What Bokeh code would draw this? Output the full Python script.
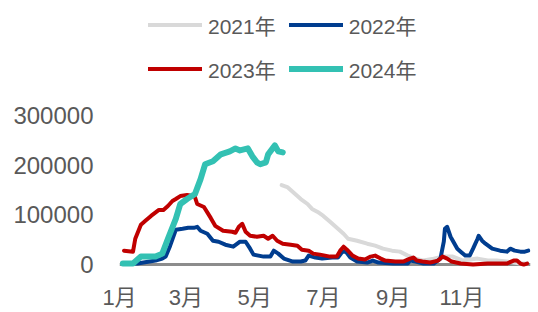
from bokeh.plotting import figure
from bokeh.models import Range1d, FixedTicker, Span, Legend, LegendItem, BasicTickFormatter
from bokeh.embed import file_html
from bokeh.resources import INLINE

FONT = "'Liberation Sans', 'Noto Sans CJK SC', sans-serif"

# x axis: day of year; month ticks
month_ticks = [1, 60, 121, 182, 244, 305]
month_labels = ["1月", "3月", "5月", "7月", "9月", "11月"]
y_ticks = [0, 100000, 200000, 300000]

series_names = ["2021年", "2022年", "2023年", "2024年"]

days_2021 = [145, 150, 155, 162, 168, 172, 177, 182, 188, 194, 200, 204, 212, 221, 228, 235,
             243, 250, 257, 264, 271, 280, 288, 297, 306, 319, 328, 336, 345, 357, 363]
vals_2021 = [160000, 156000, 146000, 132000, 122000, 112000, 106000, 98000, 86000, 74000,
             62000, 52000, 48000, 42000, 38000, 32000, 28000, 26000, 18000, 12000, 8000,
             12000, 16000, 16000, 8000, 12000, 8000, 8000, 6000, 2000, 2000]

days_2022 = [4, 17, 33, 39, 42, 46, 51, 57, 62, 67, 70, 73, 79, 84, 89, 95, 102, 108, 113,
             117, 120, 129, 135, 138, 142, 147, 155, 162, 166, 169, 175, 181, 190, 195, 199,
             202, 206, 212, 221, 226, 231, 244, 257, 259, 264, 271, 280, 286, 289, 290, 292,
             295, 297, 301, 304, 308, 312, 315, 319, 320, 323, 326, 332, 339, 345, 348, 352,
             357, 361, 364]
vals_2022 = [2000, 2000, 8000, 12000, 16000, 38000, 70000, 72000, 74000, 74000, 76000, 68000,
             62000, 48000, 46000, 40000, 36000, 46000, 46000, 32000, 20000, 16000, 16000,
             28000, 22000, 12000, 6000, 6000, 8000, 18000, 14000, 12000, 14000, 14000, 26000,
             26000, 14000, 6000, 4000, 8000, 4000, 2000, 2000, 8000, 6000, 2000, 2000, 12000,
             46000, 72000, 76000, 56000, 48000, 32000, 26000, 18000, 18000, 32000, 52000,
             58000, 48000, 42000, 32000, 28000, 26000, 32000, 28000, 26000, 26000, 28000]

days_2023 = [5, 13, 15, 20, 24, 29, 36, 40, 44, 48, 51, 55, 61, 66, 68, 70, 76, 82, 86, 93,
             101, 104, 107, 110, 113, 117, 123, 129, 133, 137, 141, 146, 153, 159, 163, 169,
             173, 179, 188, 194, 197, 200, 203, 208, 213, 219, 224, 228, 233, 237, 246, 253,
             259, 262, 265, 270, 277, 284, 288, 292, 296, 304, 315, 328, 336, 345, 351, 354,
             357, 360, 363]
vals_2023 = [28000, 26000, 52000, 80000, 88000, 98000, 110000, 110000, 118000, 128000,
             132000, 138000, 140000, 138000, 136000, 122000, 116000, 94000, 78000, 68000,
             66000, 64000, 76000, 82000, 66000, 58000, 56000, 58000, 52000, 58000, 48000,
             42000, 40000, 38000, 30000, 28000, 22000, 20000, 16000, 16000, 28000, 36000,
             30000, 18000, 12000, 10000, 16000, 18000, 12000, 8000, 6000, 6000, 12000, 14000,
             8000, 6000, 4000, 8000, 16000, 12000, 6000, 2000, 0, 2000, 2000, 2000, 8000,
             8000, 2000, 0, 2000]

days_2024 = [4, 13, 20, 33, 39, 44, 51, 55, 61, 68, 73, 77, 84, 91, 99, 104, 108, 115, 119,
             123, 126, 131, 133, 139, 142, 146]
vals_2024 = [2000, 2000, 16000, 16000, 22000, 52000, 92000, 122000, 132000, 142000, 172000,
             202000, 208000, 222000, 228000, 234000, 230000, 234000, 218000, 206000, 202000,
             206000, 222000, 240000, 228000, 226000]

colors = ["#D9D9D9", "#003D8F", "#C00000", "#33C1B3"]
widths = [4, 4, 4, 6]

p = figure(width=538, height=312, output_backend="svg", toolbar_location=None,
           x_range=Range1d(1, 366), y_range=Range1d(-12000, 532000),
           min_border_left=119, min_border_right=8, min_border_top=0, min_border_bottom=40)
p.outline_line_color = None
p.xgrid.visible = False
p.ygrid.visible = False
p.background_fill_color = "white"
p.border_fill_color = "white"

base = Span(location=0, dimension="width", line_color="#8C8C8C", line_width=3, level="underlay")
p.add_layout(base)

data = [(days_2021, vals_2021), (days_2022, vals_2022), (days_2023, vals_2023), (days_2024, vals_2024)]
renderers = []
for (d, v), c, w in zip(data, colors, widths):
    r = p.line(d, v, line_color=c, line_width=w, line_join="round", line_cap="round")
    renderers.append(r)

# axes
for ax in (p.xaxis, p.yaxis):
    ax.axis_line_color = None
    ax.major_tick_line_color = None
    ax.minor_tick_line_color = None
    ax.major_tick_out = 0
    ax.major_tick_in = 0
    ax.minor_tick_out = 0
    ax.minor_tick_in = 0
    ax.major_label_text_font = FONT
    ax.major_label_text_color = "#595959"

p.xaxis.ticker = FixedTicker(ticks=month_ticks)
p.xaxis.major_label_overrides = {t: l for t, l in zip(month_ticks, month_labels)}
p.xaxis.major_label_standoff = 14
p.xaxis.major_label_text_font_size = "22px"

p.yaxis.ticker = FixedTicker(ticks=y_ticks)
p.yaxis.formatter = BasicTickFormatter(use_scientific=False)
p.yaxis.major_label_standoff = 26
p.yaxis.major_label_text_font_size = "24px"

# column-major fill: col1 = 2021, 2023 ; col2 = 2022, 2024
order = [0, 2, 1, 3]
legend = Legend(items=[LegendItem(label=series_names[i], renderers=[renderers[i]]) for i in order],
                ncols=2, location=(29, 186))
legend.label_text_font = FONT
legend.label_text_font_size = "21px"
legend.label_text_color = "#595959"
legend.glyph_width = 54
legend.glyph_height = 31
legend.label_height = 31
legend.label_standoff = 6
legend.spacing = 13
legend.padding = 0
legend.margin = 0
legend.border_line_alpha = 0
legend.background_fill_alpha = 0
p.add_layout(legend)

open("out.html", "w").write(file_html(p, INLINE))
